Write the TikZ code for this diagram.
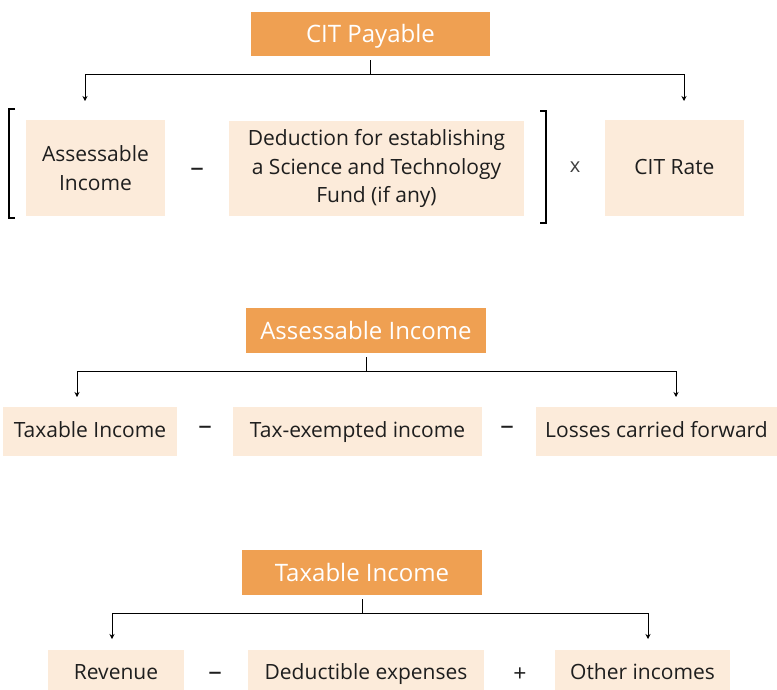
\documentclass[tikz,border=0pt]{standalone}
\usepackage{fontspec}
\setmainfont{Open Sans}
\usetikzlibrary{arrows.meta}
\definecolor{orangeT}{RGB}{239,160,82}
\definecolor{peach}{RGB}{252,235,218}
\definecolor{txt}{RGB}{30,30,30}
\tikzset{
  titlebox/.style={fill=orangeT, text=white, inner sep=0pt, text height=17pt, text depth=0pt, font=\fontsize{24}{28}\selectfont},
  itembox/.style={fill=peach, text=txt, inner sep=0pt, align=center, font=\fontsize{21}{28.5}\selectfont},
  oneline/.style={text height=15pt, text depth=3pt},
  opsym/.style={text=txt, inner sep=0pt, font=\fontsize{27}{30}\selectfont},
  stem/.style={draw=black, line width=1pt},
  arr/.style={draw=black, line width=1pt, -{Stealth[length=5pt,width=5pt]}},
  brk/.style={draw=black, line width=2pt}
}
\begin{document}
\begin{tikzpicture}[x=1pt,y=-1pt]
\clip (0,0) rectangle (777,689);
\fill[white] (0,0) rectangle (777,689);

% ---------- Section 1 ----------
\node[titlebox, minimum width=239pt, minimum height=44pt] (t1) at (370.5,34) {CIT Payable};
\node[itembox, minimum width=139pt, minimum height=96pt] (ai1) at (95.5,168) {Assessable\\Income};
\node[itembox, minimum width=295pt, minimum height=95pt] (ded) at (376.5,168.5) {Deduction for establishing\\a Science and Technology\\Fund (if any)};
\node[itembox, oneline, minimum width=139pt, minimum height=96pt] (rate) at (674.5,168) {CIT Rate};
\node[opsym] (m1) at (197,172) {–};
\node[opsym, font=\fontsize{20}{24}\selectfont, text=black!75] (x1) at (575,167) {x};

\draw[brk] (15,109) -- (9,109) -- (9,218) -- (15,218);
\draw[brk] (540,111) -- (546,111) -- (546,223) -- (540,223);

\coordinate (j1) at (t1.south |- 0,74);
\coordinate (e1L) at (85,101);
\coordinate (e1R) at (684,101);
\draw[stem] ([yshift=-4pt]t1.south) -- (j1);
\draw[arr] (j1) -| (e1L);
\draw[arr] (j1) -| (e1R);

% ---------- Section 2 ----------
\node[titlebox, minimum width=240pt, minimum height=45pt] (t2) at (366,330.5) {Assessable Income};
\node[itembox, oneline, minimum width=174pt, minimum height=49pt] (ti) at (90,431.5) {Taxable Income};
\node[itembox, oneline, minimum width=249pt, minimum height=49pt] (te) at (357.5,431.5) {Tax-exempted income};
\node[itembox, oneline, minimum width=241pt, minimum height=49pt] (lc) at (656.5,431.5) {Losses carried forward};
\node[opsym] (m2) at (205,430) {–};
\node[opsym] (m3) at (507,430) {–};

\coordinate (j2) at (t2.south |- 0,371);
\coordinate (e2L) at (77,397);
\coordinate (e2R) at (676,397);
\draw[stem] ([yshift=-4pt]t2.south) -- (j2);
\draw[arr] (j2) -| (e2L);
\draw[arr] (j2) -| (e2R);

% ---------- Section 3 ----------
\node[titlebox, minimum width=240pt, minimum height=45pt] (t3) at (362,572.5) {Taxable Income};
\node[itembox, oneline, minimum width=136pt, minimum height=46pt, anchor=north] (rev) at (116,650) {Revenue};
\node[itembox, oneline, minimum width=236pt, minimum height=46pt, anchor=north] (de) at (366,650) {Deductible expenses};
\node[itembox, oneline, minimum width=175pt, minimum height=46pt, anchor=north] (oi) at (642.5,650) {Other incomes};
\node[opsym] (m4) at (215,676) {–};
\node[opsym, font=\fontsize{23}{26}\selectfont] (p1) at (520,675) {+};

\coordinate (j3) at (t3.south |- 0,613);
\coordinate (e3L) at (112,639);
\coordinate (e3R) at (648,639);
\draw[stem] ([yshift=-4pt]t3.south) -- (j3);
\draw[arr] (j3) -| (e3L);
\draw[arr] (j3) -| (e3R);
\end{tikzpicture}
\end{document}
